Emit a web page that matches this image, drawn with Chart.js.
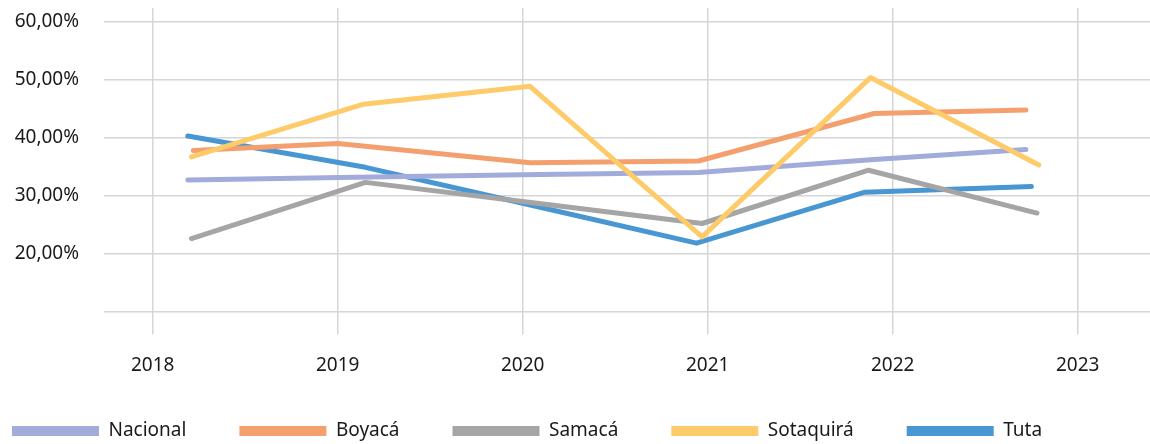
<!DOCTYPE html>
<html>
<head>
<meta charset="utf-8">
<script src="https://cdn.jsdelivr.net/npm/chart.js@4/dist/chart.umd.min.js"></script>
<style>
  body { margin: 0; background: #fff; }
  #wrap { width: 1150px; height: 444px; }
</style>
</head>
<body>
<div id="wrap"><canvas id="chart" width="1150" height="444"></canvas></div>
<script>
// series names and tick labels
const seriesNames = ['Nacional', 'Boyacá', 'Samacá', 'Sotaquirá', 'Tuta'];
const yearTicks = [2018, 2019, 2020, 2021, 2022, 2023];
const pctTicks = [10, 20, 30, 40, 50, 60];

// x positions (years) and values (%)
const nacionalX = [2018.19, 2019.1, 2020.0, 2020.95, 2021.88, 2022.72];
const nacionalY = [32.7, 33.2, 33.6, 34.0, 36.2, 38.0];
const boyacaX = [2018.22, 2019.0, 2020.04, 2020.95, 2021.9, 2022.72];
const boyacaY = [37.8, 39.0, 35.7, 36.0, 44.2, 44.8];
const samacaX = [2018.21, 2019.15, 2020.0, 2020.97, 2021.87, 2022.78];
const samacaY = [22.6, 32.3, 29.0, 25.2, 34.4, 27.0];
const sotaquiraX = [2018.21, 2019.14, 2020.04, 2020.97, 2021.88, 2022.79];
const sotaquiraY = [36.7, 45.8, 48.9, 22.9, 50.4, 35.3];
const tutaX = [2018.19, 2019.15, 2020.0, 2020.94, 2021.85, 2022.75];
const tutaY = [40.3, 34.9, 28.7, 21.8, 30.6, 31.6];

const colors = ['#a2acda', '#f4a06e', '#a5a5a5', '#fecb6b', '#4897d3'];
const drawOrder = [1, 2, 3, 0, 4];

const xs = [nacionalX, boyacaX, samacaX, sotaquiraX, tutaX];
const ys = [nacionalY, boyacaY, samacaY, sotaquiraY, tutaY];

function toPoints(x, y) {
    return x.map((v, i) => ({ x: v, y: y[i] }));
}

const datasets = seriesNames.map((name, i) => ({
    label: name,
    data: toPoints(xs[i], ys[i]),
    borderColor: colors[i],
    backgroundColor: colors[i],
    borderWidth: 5,
    borderCapStyle: 'round',
    borderJoinStyle: 'round',
    pointRadius: 0,
    tension: 0,
    order: drawOrder[i]
}));

const fontFamily = '"Noto Sans", "Open Sans", sans-serif';
const textColor = '#1a1a1a';
const gridColor = '#d6d6d6';

// the legend box sits over the lower part of the x axis, so let the year labels draw past it
const xLabelRoom = {
    id: 'xLabelRoom',
    afterLayout: chart => { chart.scales.x.bottom = chart.height; }
};

new Chart(document.getElementById('chart'), {
    type: 'line',
    data: { datasets: datasets },
    plugins: [xLabelRoom],
    options: {
        responsive: false,
        animation: false,
        layout: { padding: { top: 8, left: -41, right: 0, bottom: -6.5 } },
        plugins: {
            tooltip: { enabled: false },
            legend: {
                position: 'bottom',
                align: 'start',
                labels: {
                    boxWidth: 87,
                    boxHeight: 10,
                    padding: 53,
                    color: textColor,
                    font: { family: fontFamily, size: 19 },
                    sort: (a, b) => a.datasetIndex - b.datasetIndex,
                    // flat rectangles, no rounded stroke around the swatch
                    generateLabels: chart => {
                        const items = Chart.defaults.plugins.legend.labels.generateLabels(chart);
                        items.forEach(item => { item.lineWidth = 0; });
                        return items;
                    }
                }
            }
        },
        scales: {
            x: {
                type: 'linear',
                min: 2017.737,
                max: 2023.391,
                afterBuildTicks: scale => {
                    scale.ticks = yearTicks.map(v => ({ value: v }));
                },
                afterFit: scale => { scale.height = 57; },
                border: { display: false },
                grid: {
                    color: gridColor,
                    lineWidth: 1.5,
                    drawTicks: true,
                    tickLength: 23
                },
                ticks: {
                    padding: 20,
                    maxRotation: 0,
                    autoSkip: false,
                    color: textColor,
                    font: { family: fontFamily, size: 19 },
                    callback: v => String(v)
                }
            },
            y: {
                min: 10,
                max: 62.42,
                afterBuildTicks: scale => {
                    scale.ticks = pctTicks.map(v => ({ value: v }));
                },
                afterFit: scale => {
                    scale.width = 145;
                    scale.paddingTop = 0;
                    scale.paddingBottom = 0;
                },
                border: { display: false },
                grid: {
                    color: gridColor,
                    lineWidth: 1.5,
                    drawTicks: false
                },
                ticks: {
                    padding: 25,
                    color: textColor,
                    font: { family: fontFamily, size: 19 },
                    callback: v => v === 10 ? '' : v.toFixed(2).replace('.', ',') + '%'
                }
            }
        }
    }
});
</script>
</body>
</html>
